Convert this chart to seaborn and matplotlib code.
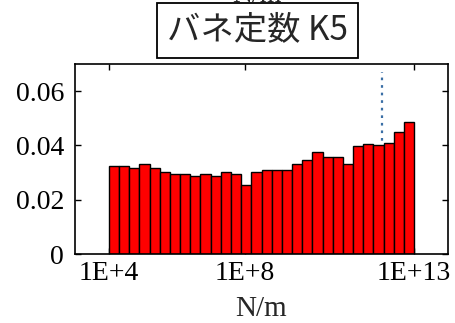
import numpy as np
import pandas as pd
import matplotlib
matplotlib.use("Agg")
import matplotlib.pyplot as plt
import seaborn as sns

# Histogram of spring constant K5 (log10 N/m), relative frequency per bin
bin_edges_log10 = [round(4.0 + 0.3 * i, 2) for i in range(31)]
bin_freq = [0.0326, 0.0326, 0.0317, 0.0332, 0.0316, 0.0301, 0.0295, 0.0295,
            0.0286, 0.0295, 0.0286, 0.0301, 0.0293, 0.0256, 0.0301, 0.0309,
            0.0309, 0.0309, 0.0330, 0.0346, 0.0375, 0.0358, 0.0358, 0.0330,
            0.0397, 0.0404, 0.0400, 0.0410, 0.0449, 0.0488]
marker_log10 = 12.05
marker_top = 0.067

x_ticks = [4, 8, 13]
x_tick_labels = ["1E+4", "1E+8", "1E+13"]
y_ticks = [0, 0.02, 0.04, 0.06]
y_tick_labels = ["0", "0.02", "0.04", "0.06"]

sns.set_style("ticks")
plt.rcParams["font.family"] = ["Liberation Serif", "DejaVu Serif"]

edges = np.array(bin_edges_log10)
centers = (edges[:-1] + edges[1:]) / 2
df = pd.DataFrame({"logk": centers, "freq": bin_freq})

fig = plt.figure(figsize=(4.56, 3.23), dpi=100)
ax = fig.add_axes([75 / 456, 1 - 254 / 323, (448 - 75) / 456, (254 - 64) / 323])

ax.plot([marker_log10, marker_log10], [0, marker_top], color="#3a6ea5",
        lw=1.6, dashes=(1.2, 2.2), zorder=1)

sns.histplot(data=df, x="logk", weights="freq", bins=bin_edges_log10,
             color="#ff0000", alpha=1.0, edgecolor="black", linewidth=1.0,
             ax=ax, zorder=2)

ax.set_xlim(3, 14)
ax.set_ylim(0, 0.07)
ax.set_xticks(x_ticks)
ax.set_xticklabels(x_tick_labels)
ax.set_yticks(y_ticks)
ax.set_yticklabels(y_tick_labels)
ax.tick_params(direction="in", length=4, width=1, top=True, right=True,
               labelsize=20, colors="black")
ax.tick_params(axis="y", pad=8)
ax.tick_params(axis="x", pad=5)
for s in ax.spines.values():
    s.set_visible(True)
    s.set_linewidth(1.2)
    s.set_color("black")
ax.set_xlabel("N/m", fontsize=21, labelpad=7)
ax.set_ylabel("")

# Bottom of the axis label belonging to the panel above
fig.text(257 / 456, 1 - 2.5 / 323, "N/m", fontsize=20, ha="center",
         va="baseline")

fig.text(257.5 / 456, 1 - 30 / 323, "バネ定数 K5", fontsize=24,
         family=["Noto Sans CJK JP", "DejaVu Sans"], ha="center", va="center",
         bbox=dict(boxstyle="square,pad=0.3", fc="white", ec="black", lw=1.3))

fig.savefig("out.png", dpi=100)
